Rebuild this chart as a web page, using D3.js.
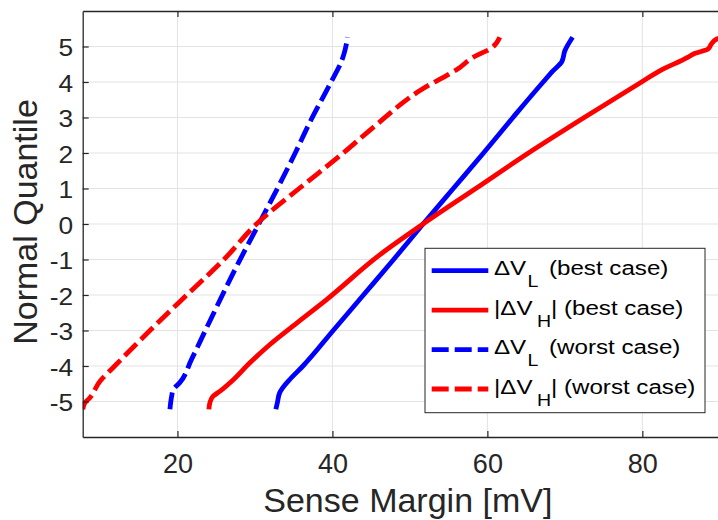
<!DOCTYPE html>
<html>
<head>
<meta charset="utf-8">
<script src="https://cdn.jsdelivr.net/npm/d3@7"></script>
<style>
  body { margin: 0; background: #fff; }
  svg { display: block; font-family: "Liberation Sans", Arial, sans-serif; }
</style>
</head>
<body>
<div id="chart"></div>
<script>
// sense margin (mV) vs normal quantile
var bestL_mv  = [32.7, 32.9, 33.2, 33.6, 34.5, 36.2, 40.1, 44.0, 47.9, 51.7, 55.6, 59.5, 63.3, 67.2, 68.5, 69.6, 70.0, 71.0];
var bestL_q   = [-5.22, -5.03, -4.75, -4.61, -4.38, -4.0, -3, -2, -1, 0, 1, 2, 3, 4, 4.32, 4.57, 4.88, 5.26];

var bestH_mv  = [24.06, 24.19, 24.6, 25.5, 27.0, 29.35, 31.9, 35.4, 39.25, 46.1, 51.7, 58.5, 65.3, 72.5, 79.9, 82.3, 85.9, 86.6, 88.5, 88.9, 89.6, 90.6];
var bestH_q   = [-5.22, -5.03, -4.85, -4.71, -4.43, -3.91, -3.40, -2.79, -2.13, -0.87, 0, 1, 2, 3, 4, 4.32, 4.70, 4.79, 4.93, 5.07, 5.21, 5.28];

var worstL_mv = [19.03, 19.25, 19.46, 20.3, 21.8, 23.97, 27.85, 30.5, 32.9, 35.2, 37.1, 39.7, 41.2, 41.6, 41.96];
var worstL_q  = [-5.22, -4.85, -4.66, -4.47, -3.82, -2.83, -1.10, 0, 1, 2, 2.87, 3.95, 4.6, 4.88, 5.26];

var worstH_mv = [7.77, 8.06, 8.5, 10.0, 11.9, 16.45, 21.2, 26.0, 30.2, 35.7, 41.4, 45.2, 51.3, 56.45, 58.2, 59.5, 60.1, 61.6];
var worstH_q  = [-5.22, -5.03, -4.94, -4.43, -4.0, -3, -2, -1, 0, 1, 2, 2.71, 3.76, 4.41, 4.70, 4.84, 4.90, 5.26];

var xTicks = [20, 40, 60, 80];
var yTicks = [-5, -4, -3, -2, -1, 0, 1, 2, 3, 4, 5];

var series = [
  { mv: bestL_mv,  q: bestL_q,  color: "#0000ff", dash: null,   sub: "L", bars: false, tag: "(best case)" },
  { mv: bestH_mv,  q: bestH_q,  color: "#ff0000", dash: null,   sub: "H", bars: true,  tag: "(best case)" },
  { mv: worstL_mv, q: worstL_q, color: "#0000ff", dash: "17,6", sub: "L", bars: false, tag: "(worst case)" },
  { mv: worstH_mv, q: worstH_q, color: "#ff0000", dash: "17,6", sub: "H", bars: true,  tag: "(worst case)" }
];

// plot box (right edge runs past the picture, as in the original crop)
var W = 718, H = 520;
var pLeft = 82.7, pRight = 733, pTop = 11, pBottom = 437;

var svg = d3.select("#chart").append("svg")
  .attr("width", W).attr("height", H);

var x = d3.scaleLinear().domain([7.77, 91.7]).range([pLeft, pRight]);
var y = d3.scaleLinear().domain([-6, 6]).range([pBottom, pTop]);

// grid
var grid = svg.append("g").attr("stroke", "#e3e3e3").attr("stroke-width", 1);
grid.selectAll(".gx").data(xTicks).enter().append("line")
  .attr("x1", function(d) { return x(d); }).attr("x2", function(d) { return x(d); })
  .attr("y1", pTop).attr("y2", pBottom);
grid.selectAll(".gy").data(yTicks).enter().append("line")
  .attr("x1", pLeft).attr("x2", pRight)
  .attr("y1", function(d) { return y(d); }).attr("y2", function(d) { return y(d); });

// curves
svg.append("clipPath").attr("id", "plotclip").append("rect")
  .attr("x", pLeft).attr("y", pTop).attr("width", pRight - pLeft).attr("height", pBottom - pTop);

var line = d3.line()
  .curve(d3.curveMonotoneY)
  .x(function(d) { return x(d[0]); })
  .y(function(d) { return y(d[1]); });

var curves = svg.append("g").attr("clip-path", "url(#plotclip)");
series.forEach(function(s) {
  var pts = s.mv.map(function(v, i) { return [v, s.q[i]]; });
  curves.append("path")
    .datum(pts)
    .attr("d", line)
    .attr("fill", "none")
    .attr("stroke", s.color)
    .attr("stroke-width", 4.8)
    .attr("stroke-linejoin", "round")
    .attr("stroke-dasharray", s.dash);
});

// axes
var xAxis = svg.append("g")
  .attr("transform", "translate(0," + pBottom + ")")
  .call(d3.axisBottom(x).tickValues(xTicks).tickSizeInner(-6).tickSizeOuter(0).tickFormat(function(d) { return String(d); }));
xAxis.selectAll("text").attr("dy", null).attr("y", 35.5).attr("font-size", 27);

var xTop = svg.append("g")
  .attr("transform", "translate(0," + pTop + ")")
  .call(d3.axisTop(x).tickValues(xTicks).tickSizeInner(-6).tickSizeOuter(0).tickFormat(""));

var yAxis = svg.append("g")
  .attr("transform", "translate(" + pLeft + ",0)")
  .call(d3.axisLeft(y).tickValues(yTicks).tickSizeInner(-6).tickSizeOuter(0).tickFormat(function(d) { return String(d); }));
yAxis.selectAll("text")
  .attr("x", 0).attr("dy", "0.36em")
  .attr("font-size", 23.5)
  .attr("transform", "translate(-9.5,1) scale(1.12,1)");

[xAxis, xTop, yAxis].forEach(function(a) {
  a.select(".domain").attr("stroke", "#262626").attr("stroke-width", 1.3);
  a.selectAll(".tick line").attr("stroke", "#262626").attr("stroke-width", 1.2);
  a.selectAll("text").attr("fill", "#262626").attr("font-family", "Liberation Sans, Arial, sans-serif");
});

// axis labels
svg.append("text")
  .attr("x", (pLeft + pRight) / 2).attr("y", 512)
  .attr("text-anchor", "middle")
  .attr("font-size", 34).attr("fill", "#262626")
  .text("Sense Margin [mV]");

svg.append("text")
  .attr("transform", "translate(37,222) rotate(-90)")
  .attr("text-anchor", "middle")
  .attr("font-size", 34).attr("fill", "#262626")
  .text("Normal Quantile");

// legend
var leg = svg.append("g");
leg.append("rect")
  .attr("x", 425).attr("y", 248.3).attr("width", 280).attr("height", 164.4)
  .attr("fill", "#fff").attr("stroke", "#262626").attr("stroke-width", 1);

var rowY = d3.scaleLinear().domain([0, 3]).range([270.7, 389]);

function legText(g, tx, ty, str, size) {
  g.append("text")
    .attr("transform", "translate(" + tx + "," + ty + ") scale(1.15,1)")
    .attr("font-size", size).attr("fill", "#000")
    .text(str);
}

series.forEach(function(s, i) {
  var cy = rowY(i);
  var g = leg.append("g");
  g.append("line")
    .attr("x1", 431.7).attr("x2", 488.3)
    .attr("y1", cy).attr("y2", cy)
    .attr("stroke", s.color).attr("stroke-width", 4.8)
    .attr("stroke-dasharray", s.dash);
  var base = cy + 4.5;
  if (s.bars) {
    legText(g, 494, base, "|\u0394V", 21);
    legText(g, 537, base + 12, s.sub, 17);
    legText(g, 551, base, "| " + s.tag, 21);
  } else {
    legText(g, 494, base, "\u0394V", 21);
    legText(g, 527.5, base + 12, s.sub, 17);
    legText(g, 549, base, s.tag, 21);
  }
});
</script>
</body>
</html>
